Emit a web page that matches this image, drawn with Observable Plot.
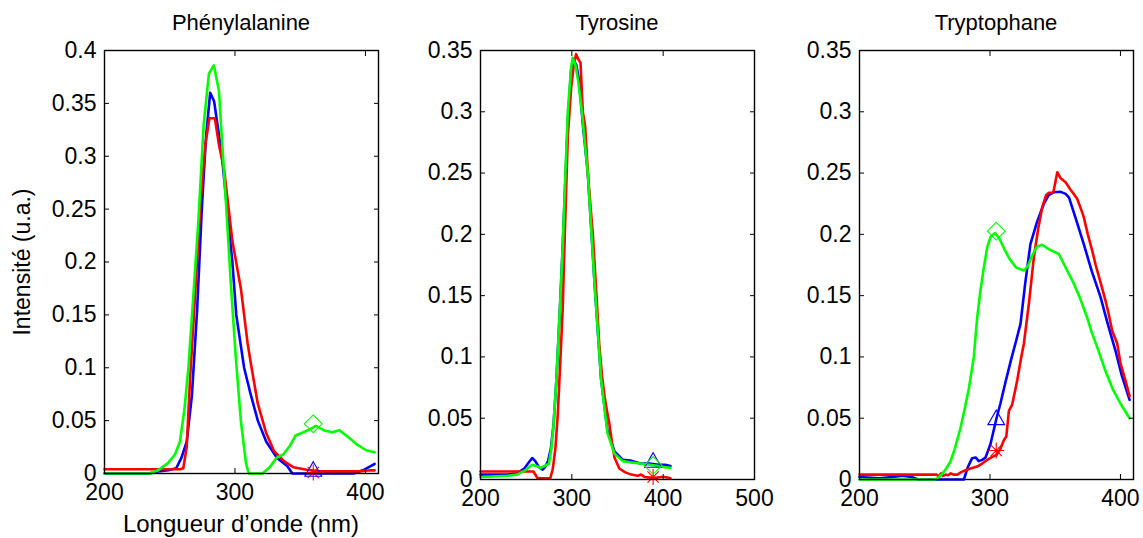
<!DOCTYPE html>
<html><head><meta charset="utf-8">
<script src="https://cdn.jsdelivr.net/npm/d3@7"></script>
<script src="https://cdn.jsdelivr.net/npm/@observablehq/plot@0.6"></script>
<style>
body{margin:0;background:#fff;}
#root{position:relative;width:1143px;height:538px;overflow:hidden;font-family:"Liberation Sans",Arial,sans-serif;color:#000;}
.pl{position:absolute;}
.txt{position:absolute;white-space:nowrap;transform:translate(-50%,-50%);}
</style></head><body><div id="root"></div>
<script>
// ---------- data ----------
const panelTitles = ["Phénylalanine", "Tyrosine", "Tryptophane"];
const xLabel = "Longueur d’onde (nm)";
const yLabel = "Intensité (u.a.)";
const seriesNames = ["bleu", "rouge", "vert"];
const seriesColors = ["#0000ff", "#ff0000", "#00ff00"];

// Phénylalanine
const pheBlueX = [200,234,241,249,255,259,263,267,271,274.7,277.8,281,284,286,290,294,298,301,307,312,317.5,324,332,340,344,360,380,391,398,404,407];
const pheBlueY = [0,0,0.002,0.003,0.005,0.015,0.03,0.074,0.155,0.253,0.318,0.36,0.352,0.335,0.3,0.25,0.2,0.15,0.1,0.075,0.05,0.03,0.015,0.007,0,0,0,0,0.003,0.007,0.009];
const pheRedX = [200,258,260.4,263,265.6,269.5,273.4,277.3,280.4,284.6,287.7,291.6,298,304.5,309.7,312.3,317.5,324,330,338.3,344.7,355,365,378,395,404,407];
const pheRedY = [0.004,0.004,0.005,0.025,0.09,0.17,0.253,0.311,0.336,0.336,0.311,0.288,0.22,0.175,0.123,0.103,0.066,0.038,0.021,0.011,0.006,0.0035,0.002,0.002,0.002,0.003,0.003];
const pheGreenX = [200,234.5,241,248.8,254,257.8,261.2,264.3,268.2,272,276,280,283.8,287.7,290.3,293.4,296.8,300.6,304.5,308.4,310.5,321,326.6,332,337,342,346.5,352.5,357.7,362,368,374.6,379.8,386.3,394,400.5,407];
const pheGreenY = [0,0,0.003,0.01,0.018,0.03,0.06,0.1,0.17,0.24,0.33,0.378,0.386,0.362,0.31,0.25,0.18,0.11,0.05,0.01,0,0,0.006,0.015,0.018,0.026,0.036,0.039,0.042,0.045,0.041,0.039,0.041,0.035,0.027,0.022,0.02];
const pheMarkX = [360, 360, 360];
const pheMarkY = [0.002, 0.001, 0.047];

// Tyrosine
const tyrBlueX = [200,230,240,248,253,256.6,260,264,268,271,274,277,280,283,285,287.6,290,292.7,295.6,299.3,302,305,308,312,317.5,324.8,332,339,346.7,355.8,364,375,385,395,402,408];
const tyrBlueY = [0.004,0.004,0.005,0.009,0.014,0.0175,0.015,0.01,0.008,0.0105,0.015,0.025,0.045,0.08,0.11,0.15,0.19,0.24,0.293,0.335,0.342,0.338,0.325,0.29,0.25,0.161,0.082,0.04,0.023,0.016,0.0155,0.013,0.013,0.012,0.012,0.011];
const tyrRedX = [200,258,262,266,276.4,279,282,284.7,287.6,290,292.7,295.6,299.3,302,304.7,307,309.5,312,314.6,318,323,327,330,333,335.8,338,341,344,346.7,352,358,365,372,376,380,390,398,402,408];
const tyrRedY = [0.0065,0.0065,0.0015,0.001,0.001,0.008,0.025,0.054,0.1,0.139,0.21,0.28,0.32,0.337,0.347,0.343,0.34,0.3,0.288,0.245,0.2,0.15,0.11,0.085,0.068,0.058,0.046,0.03,0.018,0.009,0.006,0.004,0.003,0.004,0.002,0.001,0.002,0.002,0.001];
const tyrGreenX = [200,230,240,248,253,256.6,261,265.7,270,274.8,277.5,280,283,285,287.6,290,292.7,295.6,299.3,301,304,307,311,317.5,324.8,332,339,346.7,355.8,364,375,385,395,402,408];
const tyrGreenY = [0.002,0.003,0.004,0.007,0.01,0.012,0.011,0.0095,0.011,0.0128,0.025,0.045,0.08,0.11,0.15,0.19,0.245,0.3,0.337,0.344,0.338,0.325,0.3,0.25,0.161,0.082,0.038,0.021,0.015,0.014,0.013,0.012,0.011,0.01,0.0095];
const tyrMarkX = [389, 389, 389];
const tyrMarkY = [0.014, 0.002, 0.0115];

// Tryptophane
const trpBlueX = [200,215,225,233,240,245,280,283,286.3,289,291.4,294,296.6,300.4,305,308,312,316,320,323.4,327,331,336,341.3,345,348.9,354.2,358,360.6,366,371.9,378,384.7,390,396.2,401,407];
const trpBlueY = [0.002,0.001,0.002,0.003,0.002,0,0,0.01,0.0174,0.018,0.015,0.016,0.018,0.029,0.05,0.062,0.08,0.097,0.113,0.127,0.16,0.192,0.21,0.225,0.232,0.2344,0.2347,0.233,0.23,0.212,0.192,0.17,0.149,0.128,0.105,0.085,0.065];
const trpRedX = [200,259,260.8,262.5,264,266,268,270,272,275,278,281.2,285,290.2,294,297.9,301.7,305,308,310.6,312.5,314.5,317,320.9,324,326,330,333.6,337,340,343,345.1,348.5,351.6,354,357.9,362,364.2,366.8,370,371.9,375,378.3,381,383.4,386,388.5,391,393.6,397.5,400,404,407];
const trpRedY = [0.004,0.004,0.0025,0.005,0.003,0.004,0.0035,0.005,0.004,0.004,0.006,0.0075,0.009,0.0106,0.013,0.016,0.0185,0.02,0.025,0.032,0.035,0.056,0.061,0.081,0.1,0.111,0.145,0.181,0.205,0.222,0.232,0.234,0.234,0.2507,0.246,0.2426,0.236,0.233,0.229,0.22,0.214,0.2,0.187,0.175,0.166,0.156,0.146,0.135,0.1216,0.111,0.095,0.08,0.068];
const trpGreenX = [200,257,260,263.4,266.5,269.7,273,277.4,280.5,283.8,287.6,290.2,292.8,295.3,298,300.5,304,307,311,315,320,326,329,332,336,340,345,352.8,357,364.2,369,374.5,378,382.2,388,394,400,407];
const trpGreenY = [0,0,0.001,0.0046,0.009,0.0147,0.025,0.042,0.057,0.074,0.1,0.132,0.155,0.173,0.19,0.198,0.201,0.197,0.188,0.18,0.173,0.1705,0.174,0.182,0.19,0.1915,0.188,0.184,0.175,0.16,0.148,0.132,0.12,0.108,0.09,0.074,0.062,0.05];
const trpMarkX = [304.8, 304.8, 304.8];
const trpMarkY = [0.0487, 0.0237, 0.2026];

// ticks
const xTicks3 = [200, 300, 400];
const xTicksTyr = [200, 300, 400, 500];
const yTicks04 = [0, 0.05, 0.1, 0.15, 0.2, 0.25, 0.3, 0.35, 0.4];
const yTicks035 = [0, 0.05, 0.1, 0.15, 0.2, 0.25, 0.3, 0.35];

// ---------- build ----------
function rows(xs, ys, s) { return xs.map((x, i) => ({x, y: ys[i], s})); }
const panels = [
  {title: panelTitles[0], xDomain: [200, 410], yDomain: [0, 0.4], xTicks: xTicks3, yTicks: yTicks04,
   lines: [rows(pheBlueX, pheBlueY, "bleu"), rows(pheRedX, pheRedY, "rouge"), rows(pheGreenX, pheGreenY, "vert")],
   marks: [pheMarkX, pheMarkY], frame: {left: 104, top: 50, w: 274, h: 423}},
  {title: panelTitles[1], xDomain: [200, 500], yDomain: [0, 0.35], xTicks: xTicksTyr, yTicks: yTicks035,
   lines: [rows(tyrBlueX, tyrBlueY, "bleu"), rows(tyrRedX, tyrRedY, "rouge"), rows(tyrGreenX, tyrGreenY, "vert")],
   marks: [tyrMarkX, tyrMarkY], frame: {left: 480, top: 50, w: 274, h: 429}},
  {title: panelTitles[2], xDomain: [200, 410], yDomain: [0, 0.35], xTicks: xTicks3, yTicks: yTicks035,
   lines: [rows(trpBlueX, trpBlueY, "bleu"), rows(trpRedX, trpRedY, "rouge"), rows(trpGreenX, trpGreenY, "vert")],
   marks: [trpMarkX, trpMarkY], frame: {left: 859, top: 50, w: 274, h: 429}}
];
// MATLAB-style 8-arm asterisk
const asterisk8 = {
  draw(ctx, size) {
    const r = Math.sqrt(size) * 0.56, d = r * Math.SQRT1_2;
    ctx.moveTo(0, -r); ctx.lineTo(0, r);
    ctx.moveTo(-r, 0); ctx.lineTo(r, 0);
    ctx.moveTo(-d, -d); ctx.lineTo(d, d);
    ctx.moveTo(-d, d); ctx.lineTo(d, -d);
  }
};
const symbols = ["triangle2", asterisk8, "diamond2"];
const root = document.getElementById("root");
const mL = 70, mR = 8, mT = 8, mB = 40;
const fmt = d => String(d);
const tickFont = 23;

panels.forEach(p => {
  const data = p.lines.flat();
  const markers = p.marks[0].map((x, i) => ({x, y: p.marks[1][i], s: seriesNames[i]}));
  const chart = Plot.plot({
    width: p.frame.w + mL + mR,
    height: p.frame.h + mT + mB,
    marginLeft: mL, marginRight: mR, marginTop: mT, marginBottom: mB,
    style: {fontFamily: '"Liberation Sans", Arial, sans-serif', fontSize: tickFont + "px", color: "#000", background: "transparent", overflow: "visible"},
    x: {domain: p.xDomain},
    y: {domain: p.yDomain},
    color: {domain: seriesNames, range: seriesColors},
    symbol: {domain: seriesNames, range: symbols},
    marks: [
      Plot.line(data, {x: "x", y: "y", z: "s", stroke: "s", strokeWidth: 2.6}),
      Plot.dot(markers, {x: "x", y: "y", stroke: "s", symbol: "s", fill: "none", r: 8, strokeWidth: 1.1}),
      Plot.frame({stroke: "#000", strokeWidth: 1.4}),
      Plot.axisX(p.xTicks, {anchor: "bottom", tickSize: -5, fill: "none", label: null}),
      Plot.axisX(p.xTicks, {anchor: "top", tickSize: -5, fill: "none", label: null}),
      Plot.axisY(p.yTicks, {anchor: "left", tickSize: -5, fill: "none", label: null}),
      Plot.axisY(p.yTicks, {anchor: "right", tickSize: -5, fill: "none", label: null}),
      Plot.axisX(p.xTicks, {anchor: "bottom", tickSize: 0, tickPadding: 10, tickFormat: fmt, label: null, fontSize: tickFont}),
      Plot.axisY(p.yTicks, {anchor: "left", tickSize: 0, tickPadding: 8, tickFormat: fmt, label: null, fontSize: tickFont})
    ]
  });
  chart.classList.add("pl");
  chart.style.left = (p.frame.left - mL) + "px";
  chart.style.top = (p.frame.top - mT) + "px";
  root.appendChild(chart);
  const t = document.createElement("div");
  t.className = "txt";
  t.textContent = p.title;
  t.style.left = (p.frame.left + p.frame.w / 2) + "px";
  t.style.top = "23px";
  t.style.fontSize = "22px";
  root.appendChild(t);
});
const xl = document.createElement("div");
xl.className = "txt"; xl.textContent = xLabel;
xl.style.left = (104 + 137) + "px"; xl.style.top = "524px"; xl.style.fontSize = "24px";
root.appendChild(xl);
const yl = document.createElement("div");
yl.className = "txt"; yl.textContent = yLabel;
yl.style.left = "22px"; yl.style.top = "262px"; yl.style.fontSize = "23px";
yl.style.transform = "translate(-50%,-50%) rotate(-90deg)";
root.appendChild(yl);
</script></body></html>
